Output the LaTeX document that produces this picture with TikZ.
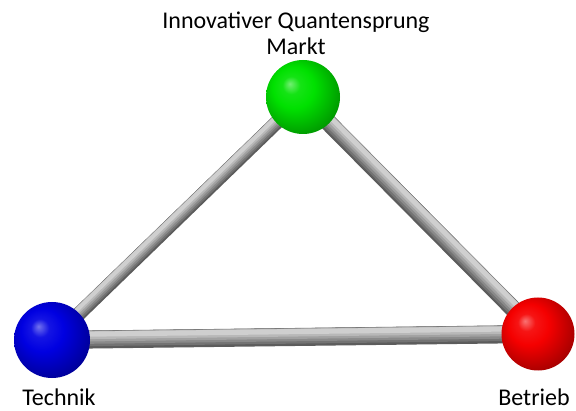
\documentclass[tikz,border=0pt]{standalone}
\usepackage{fontspec}
\setmainfont{Carlito}
\usetikzlibrary{backgrounds, calc}
\definecolor{marktgreen}{RGB}{0,225,0}
\definecolor{technikblue}{RGB}{0,0,225}
\definecolor{betriebred}{RGB}{245,0,0}
\newcommand\declaresphere[2]{%
  \pgfdeclareradialshading{#1}{\pgfqpoint{-9bp}{9bp}}{%
    color(0bp)=(#2!55!white); color(6bp)=(#2!92!white); color(14bp)=(#2);
    color(28bp)=(#2!72!black); color(38bp)=(#2!50!black); color(50bp)=(#2!50!black)}}
\declaresphere{greensphere}{marktgreen}
\declaresphere{bluesphere}{technikblue}
\declaresphere{redsphere}{betriebred}

\begin{document}
\begin{tikzpicture}[
    x=1pt, y=1pt,
    sphere/.style={circle, inner sep=0pt, shade},
    lbl/.style={anchor=base, inner sep=0pt, font=\fontsize{24}{27}\selectfont}
  ]
  \useasboundingbox (0,0) rectangle (576,410);
  \clip (0,0) rectangle (576,410);

  \node[sphere, shading=greensphere, minimum size=74pt] (markt) at (303,313) {};
  \node[sphere, shading=bluesphere, minimum size=76pt] (technik) at (52,70) {};
  \node[sphere, shading=redsphere, minimum size=73pt] (betrieb) at (538,76) {};

  \node[lbl] (titel) at (296,381) {Innovativer Quantensprung};
  \node[lbl] (marktlbl) at (296,355) {Markt};
  \node[lbl] (techniklbl) at (59,5) {Technik};
  \node[lbl] (betrieblbl) at (534,5) {Betrieb};

  \begin{scope}[on background layer]
    \foreach \a/\b/\w/\dx/\dy in {technik/betrieb/18/0/1, technik/markt/14/-0.71/0.71, markt/betrieb/17/0.71/0.71}
      \foreach \k in {0,...,5} {
        \pgfmathtruncatemacro\rodgray{64-9*\k}
        \pgfmathsetmacro\rodwd{\w*(1-\k/7)}
        \pgfmathsetmacro\rodsh{\k*0.06*\w}
        \draw[line width=\rodwd pt, draw=black!\rodgray]
          ($(\a.center)+(\dx*\rodsh,\dy*\rodsh)$) -- ($(\b.center)+(\dx*\rodsh,\dy*\rodsh)$);
      }
  \end{scope}
\end{tikzpicture}
\end{document}
